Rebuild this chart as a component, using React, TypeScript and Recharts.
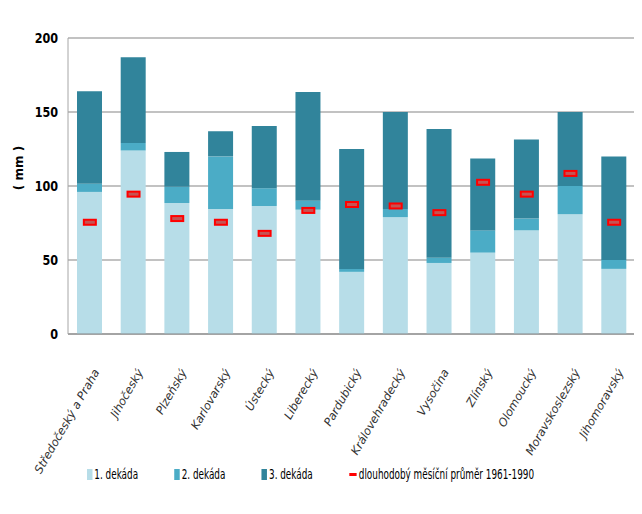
import { ComposedChart, Bar, Line, XAxis, YAxis, CartesianGrid, Legend } from "recharts";

const regions = [
    "Středočeský a Praha",
    "Jihočeský",
    "Plzeňský",
    "Karlovarský",
    "Ústecký",
    "Liberecký",
    "Pardubický",
    "Královehradecký",
    "Vysočina",
    "Zlínský",
    "Olomoucký",
    "Moravskoslezský",
    "Jihomoravský",
];
const dekada1 = [96, 124, 88.5, 84.5, 86.5, 84, 42, 79, 48, 55, 70, 81, 44];
const dekada2 = [5.5, 5, 11, 35.5, 12, 6, 2, 5.5, 3.5, 15, 8, 19, 6];
const dekada3 = [62.5, 58, 23.5, 17, 42, 73.5, 81, 65.5, 87, 48.5, 53.5, 50, 70];
const prumer = [75.5, 94.5, 78, 75.5, 68, 83.5, 87.5, 86.5, 82, 102.5, 94.5, 108.5, 75.5];
const yTicks = [0, 50, 100, 150, 200];

const seriesNames = ["1. dekáda", "2. dekáda", "3. dekáda", "dlouhodobý měsíční průměr 1961-1990"];
const COLORS = ["#B7DDE8", "#4BACC6", "#31849B", "#FF0000"];

const data = regions.map((name, i) => ({
    name,
    d1: dekada1[i],
    d2: dekada2[i],
    d3: dekada3[i],
    avg: prumer[i],
}));

const font = "'DejaVu Sans', sans-serif";

const XTick = (props: any) => {
    const { x, y, payload } = props;
    return (
        <g transform={`translate(${x + 10},${y + 30})`}>
            <text
                x={0}
                y={0}
                textAnchor="end"
                transform="rotate(-60)"
                fontFamily={font}
                fontStyle="italic"
                fontSize={11.5}
                fill="#333"
            >
                {payload.value}
            </text>
        </g>
    );
};

// narrow bold numbers like the original
const YTick = (props: any) => {
    const { x, y, payload } = props;
    return (
        <g transform={`translate(${x},${y}) scale(0.8,1)`}>
            <text x={0} y={0} dy={5} textAnchor="end" fontFamily={font} fontWeight="bold" fontSize={14} fill="#000">
                {payload.value}
            </text>
        </g>
    );
};

const Marker = (props: any) => {
    const { cx, cy, index } = props;
    if (cx == null || cy == null) return <g key={`m-${index}`} />;
    return (
        <g key={`m-${index}`}>
            <rect x={cx - 7} y={cy - 3.5} width={14} height={7} fill="#FF0000" />
            <rect x={cx - 5} y={cy - 1.5} width={10} height={3} fill="#C65353" />
        </g>
    );
};

const renderLegend = () => (
    <div
        style={{
            display: "flex",
            alignItems: "center",
            fontFamily: font,
            fontSize: 14.5,
            color: "#000",
            transform: "scaleX(0.61)",
            transformOrigin: "left center",
            whiteSpace: "nowrap",
        }}
    >
        {seriesNames.map((n, i) => (
            <div
                key={n}
                style={{ display: "flex", alignItems: "center", flexShrink: 0, width: i < 3 ? 143.2 : "auto" }}
            >
                {i < 3 ? (
                    <span style={{ display: "inline-block", width: 9, height: 11, background: COLORS[i], marginRight: 3 }} />
                ) : (
                    <span style={{ display: "inline-block", width: 12, height: 3, background: COLORS[i], marginRight: 4 }} />
                )}
                <span>{n}</span>
            </div>
        ))}
    </div>
);

export default function App() {
    return (
        <ComposedChart
            width={634}
            height={498}
            data={data}
            margin={{ top: 30, right: 6, left: 0, bottom: 42 }}
        >
            <CartesianGrid vertical={false} stroke="#868686" strokeWidth={1.2} />
            <XAxis
                dataKey="name"
                interval={0}
                height={130}
                tick={<XTick />}
                tickLine={false}
                axisLine={{ stroke: "#868686", strokeWidth: 1.2 }}
            />
            <YAxis
                width={60}
                domain={[0, 200]}
                ticks={yTicks}
                tickLine={false}
                tickSize={0}
                tickMargin={10}
                axisLine={{ stroke: "#A6A6A6" }}
                tick={<YTick />}
                label={() => (
                    <text
                        x={15}
                        y={160}
                        transform="rotate(-90, 15, 160)"
                        textAnchor="middle"
                        fontFamily={font}
                        fontWeight="bold"
                        fontSize={12}
                        fill="#000"
                    >
                        ( mm )
                    </text>
                )}
            />
            <Legend
                layout="horizontal"
                verticalAlign="middle"
                align="center"
                content={renderLegend}
                wrapperStyle={{ top: 458, left: 79, width: 540 }}
            />
            <Bar dataKey="d1" name={seriesNames[0]} stackId="a" fill={COLORS[0]} barSize={25} isAnimationActive={false} />
            <Bar dataKey="d2" name={seriesNames[1]} stackId="a" fill={COLORS[1]} barSize={25} isAnimationActive={false} />
            <Bar dataKey="d3" name={seriesNames[2]} stackId="a" fill={COLORS[2]} barSize={25} isAnimationActive={false} />
            <Line
                dataKey="avg"
                name={seriesNames[3]}
                stroke="none"
                dot={Marker}
                activeDot={false}
                legendType="none"
                isAnimationActive={false}
            />
        </ComposedChart>
    );
}
